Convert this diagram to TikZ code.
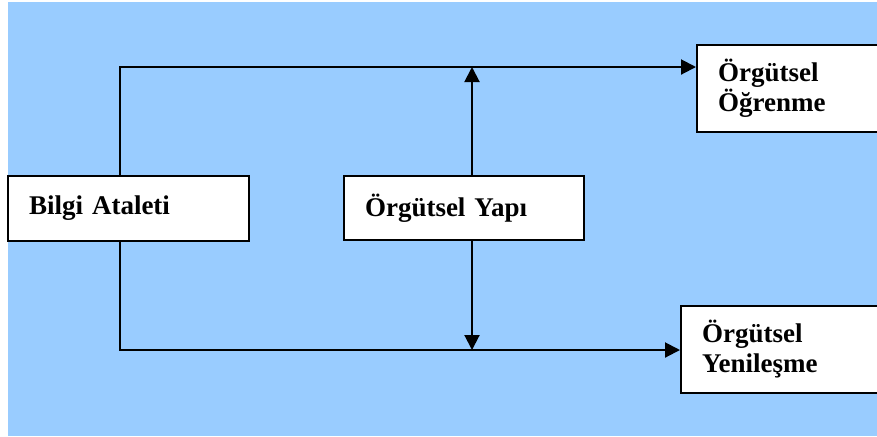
\documentclass[tikz,border=0pt]{standalone}
\usepackage{fontspec}
\setmainfont{Liberation Serif}
\usetikzlibrary{arrows.meta}
\definecolor{skyblue}{HTML}{99CCFF}
\tikzset{
  box/.style={draw,fill=white,line width=1pt,inner xsep=10.5pt,inner ysep=0pt,
    align=left,font=\bfseries\fontsize{13.5pt}{15pt}\selectfont},
}
\begin{document}
\begin{tikzpicture}[x=0.5pt,y=-0.5pt,>={Triangle[length=7.5pt,width=7.5pt]},line width=1pt]
    \clip (0,0) rectangle (877,436);
    \fill[skyblue] (8,2) rectangle (877,436);
    % boxes
    \path (128.5,208.5) node[box,minimum width=120.5pt,minimum height=32.5pt,text width=99.5pt](ataleti){Bilgi Ataleti};
    \path (464,208) node[box,minimum width=120pt,minimum height=32pt,text width=99pt](yapi){Örgütsel Yapı};
    \path (696,88.5) node[box,anchor=west,minimum width=100pt,minimum height=43.5pt,text width=79pt](ogrenme){Örgütsel\\Öğrenme};
    \path (680,349.5) node[box,anchor=west,minimum width=110pt,minimum height=43.5pt,text width=89pt](yenilesme){Örgütsel\\Yenileşme};
    % corners of the two long lines
    \coordinate (ust) at (120,67);
    \coordinate (alt) at (120,350);
    \coordinate (ustok) at (472,67);
    \coordinate (altok) at (472,350);
    \draw[->] (ataleti.north -| ust) -- (ust) -- (ogrenme.west |- ust);
    \draw[->] (ataleti.south -| alt) -- (alt) -- (yenilesme.west |- alt);
    \draw[->] (yapi.north -| ustok) -- (ustok);
    \draw[->] (yapi.south -| altok) -- (altok);
\end{tikzpicture}
\end{document}
